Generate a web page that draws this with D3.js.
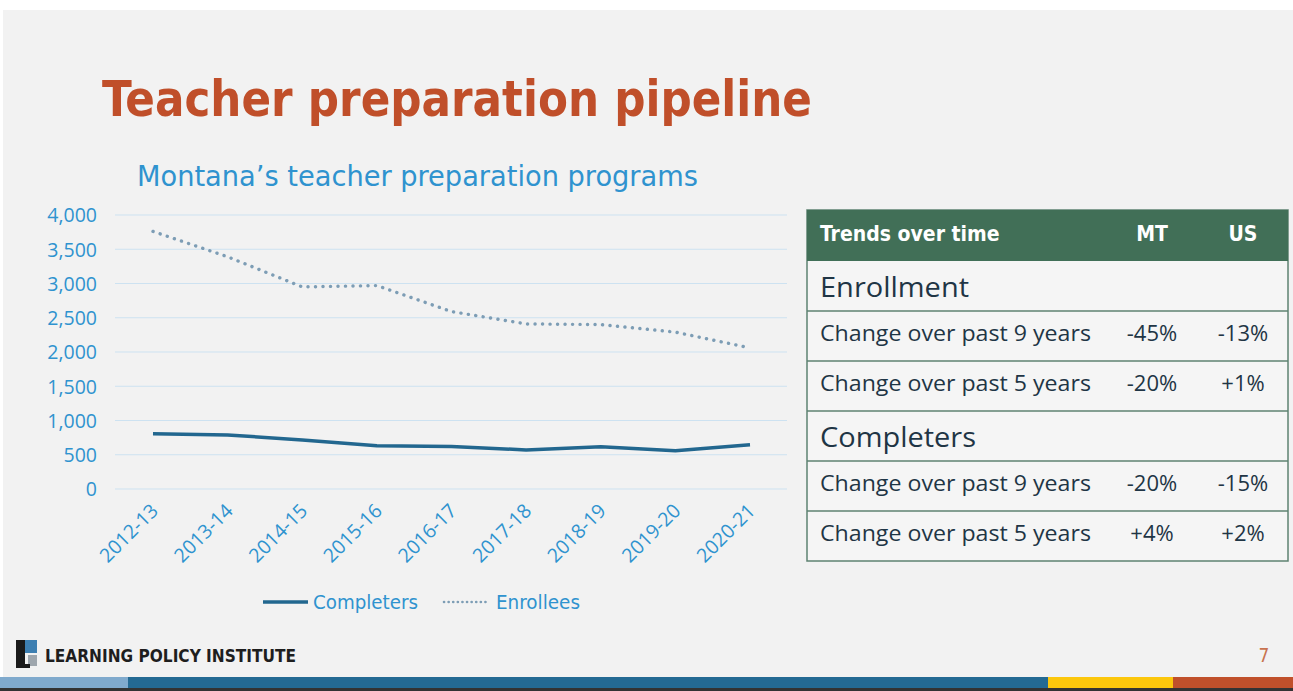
<!DOCTYPE html>
<html>
<head>
<meta charset="utf-8">
<script src="https://cdn.jsdelivr.net/npm/d3@7"></script>
<style>
  html, body { margin: 0; padding: 0; background: #ffffff; }
  svg { display: block; }
</style>
</head>
<body>
<svg id="chart" width="1293" height="691"></svg>
<script>
// ---------------- DATA ----------------
const years = ["2012-13","2013-14","2014-15","2015-16","2016-17","2017-18","2018-19","2019-20","2020-21"];
const completers = [805, 790, 715, 630, 620, 570, 615, 560, 645];
const enrollees = [3760, 3390, 2950, 2970, 2590, 2410, 2400, 2290, 2060];
const yTicks = [0, 500, 1000, 1500, 2000, 2500, 3000, 3500, 4000];
const seriesNames = ["Completers", "Enrollees"];

const tableHeader = ["Trends over time", "MT", "US"];
const tableSections = ["Enrollment", "Completers"];
const tableRowLabels = ["Change over past 9 years", "Change over past 5 years"];
const enrollmentMT = ["-45%", "-20%"];
const enrollmentUS = ["-13%", "+1%"];
const completersMT = ["-20%", "+4%"];
const completersUS = ["-15%", "+2%"];

const titleText = "Teacher preparation pipeline";
const subtitleText = "Montana\u2019s teacher preparation programs";
const footerText = "LEARNING POLICY INSTITUTE";
const pageNumber = "7";

// ---------------- STYLE ----------------
const FONT = "'Liberation Sans Narrow', 'DejaVu Sans Condensed', 'Roboto', sans-serif";
const FONT2 = "'Open Sans', 'Noto Sans', 'DejaVu Sans', sans-serif";
const BLUE_TXT = "#2f93cf";
const DARK_BLUE = "#22678f";
const DOT_COL = "#7d9db5";
const GRID = "#cde2f1";
const ORANGE = "#c04f2a";
const GREEN = "#416f57";

const svg = d3.select("#chart");

// background
svg.append("rect").attr("x", 0).attr("y", 0).attr("width", 1293).attr("height", 691).attr("fill", "#ffffff");
svg.append("rect").attr("x", 3).attr("y", 10).attr("width", 1290).attr("height", 681).attr("fill", "#f2f2f2");

// title
svg.append("text").attr("x", 102).attr("y", 116)
  .attr("font-family", FONT).attr("font-weight", "bold").attr("font-size", 50)
  .attr("fill", ORANGE).attr("textLength", 710).attr("lengthAdjust", "spacingAndGlyphs")
  .text(titleText);

// subtitle
svg.append("text").attr("x", 137).attr("y", 186)
  .attr("font-family", FONT).attr("font-size", 29)
  .attr("fill", BLUE_TXT).attr("textLength", 561).attr("lengthAdjust", "spacingAndGlyphs")
  .text(subtitleText);

// ---------------- CHART ----------------
const x = d3.scalePoint().domain(years).range([153, 750]);
const y = d3.scaleLinear().domain([0, 4000]).range([489, 215]);

const g = svg.append("g");

// grid
g.selectAll("line.grid").data(yTicks).enter().append("line")
  .attr("class", "grid")
  .attr("x1", 115).attr("x2", 787)
  .attr("y1", d => y(d)).attr("y2", d => y(d))
  .attr("stroke", GRID).attr("stroke-width", 1);

// y axis
const yAxis = d3.axisLeft(y).tickValues(yTicks).tickSize(0).tickPadding(0)
  .tickFormat(d3.format(","));
const yg = g.append("g").attr("transform", "translate(97,0)").call(yAxis);
yg.select(".domain").remove();
yg.selectAll("text").attr("font-family", FONT2).attr("font-size", 19.5)
  .attr("fill", BLUE_TXT).attr("dy", "0.35em");

// x axis
const xAxis = d3.axisBottom(x).tickSize(0).tickPadding(0);
const xg = g.append("g").attr("transform", "translate(0,489)").call(xAxis);
xg.select(".domain").remove();
xg.selectAll("text")
  .attr("font-family", FONT2).attr("font-size", 19.5).attr("fill", BLUE_TXT)
  .attr("text-anchor", "end")
  .attr("dy", null).attr("y", 0)
  .attr("transform", "translate(6,23) rotate(-45)");

// lines
const line = d3.line().x((d, i) => x(years[i])).y(d => y(d));
g.append("path").datum(enrollees).attr("d", line)
  .attr("fill", "none").attr("stroke", DOT_COL).attr("stroke-width", 3.4)
  .attr("stroke-linecap", "round").attr("stroke-dasharray", "0.1 7.4");
g.append("path").datum(completers).attr("d", line)
  .attr("fill", "none").attr("stroke", DARK_BLUE).attr("stroke-width", 3.5)
  .attr("stroke-linejoin", "round");

// legend
const lg = svg.append("g");
lg.append("line").attr("x1", 263).attr("x2", 308).attr("y1", 602).attr("y2", 602)
  .attr("stroke", DARK_BLUE).attr("stroke-width", 3.5);
lg.append("text").attr("x", 313).attr("y", 609).attr("font-family", FONT).attr("font-size", 20)
  .attr("fill", BLUE_TXT).attr("textLength", 105).attr("lengthAdjust", "spacingAndGlyphs").text(seriesNames[0]);
lg.append("line").attr("x1", 444).attr("x2", 490).attr("y1", 602).attr("y2", 602)
  .attr("stroke", DOT_COL).attr("stroke-width", 2.6).attr("stroke-linecap", "round")
  .attr("stroke-dasharray", "0.1 4.5");
lg.append("text").attr("x", 496).attr("y", 609).attr("font-family", FONT).attr("font-size", 20)
  .attr("fill", BLUE_TXT).attr("textLength", 84).attr("lengthAdjust", "spacingAndGlyphs").text(seriesNames[1]);

// ---------------- TABLE ----------------
const tX = 807, tW = 481, tTop = 210, hdrH = 51, rowH = 50;
const colMT = 1152, colUS = 1243;
const TXT = "#1f3545";
const BORDER = "#5e8271";
const tg = svg.append("g");

const rows = [];
tableSections.forEach((sec, si) => {
  rows.push({type: "section", label: sec});
  const mt = si === 0 ? enrollmentMT : completersMT;
  const us = si === 0 ? enrollmentUS : completersUS;
  tableRowLabels.forEach((lab, ri) => rows.push({type: "row", label: lab, mt: mt[ri], us: us[ri]}));
});

// body background
tg.append("rect").attr("x", tX).attr("y", tTop).attr("width", tW).attr("height", hdrH + rows.length * rowH)
  .attr("fill", "#f5f5f5").attr("stroke", BORDER).attr("stroke-width", 1.5);
// header
tg.append("rect").attr("x", tX).attr("y", tTop).attr("width", tW).attr("height", hdrH).attr("fill", GREEN);
tg.append("text").attr("x", 820).attr("y", tTop + 31).attr("font-family", FONT).attr("font-weight", "bold")
  .attr("font-size", 21).attr("fill", "#ffffff").text(tableHeader[0]);
tg.append("text").attr("x", colMT).attr("y", tTop + 31).attr("text-anchor", "middle").attr("font-family", FONT)
  .attr("font-weight", "bold").attr("font-size", 21).attr("fill", "#ffffff").text(tableHeader[1]);
tg.append("text").attr("x", colUS).attr("y", tTop + 31).attr("text-anchor", "middle").attr("font-family", FONT)
  .attr("font-weight", "bold").attr("font-size", 21).attr("fill", "#ffffff").text(tableHeader[2]);

rows.forEach((r, i) => {
  const top = tTop + hdrH + i * rowH;
  if (i > 0) {
    tg.append("line").attr("x1", tX).attr("x2", tX + tW).attr("y1", top).attr("y2", top)
      .attr("stroke", BORDER).attr("stroke-width", 1.3);
  }
  if (r.type === "section") {
    tg.append("text").attr("x", 820).attr("y", top + 36).attr("font-family", FONT2)
      .attr("font-size", 28).attr("fill", TXT).attr("textLength", r.label === "Enrollment" ? 149 : 156)
      .attr("lengthAdjust", "spacingAndGlyphs").text(r.label);
  } else {
    tg.append("text").attr("x", 820).attr("y", top + 30).attr("font-family", FONT2)
      .attr("font-size", 22).attr("fill", TXT).attr("textLength", 271)
      .attr("lengthAdjust", "spacingAndGlyphs").text(r.label);
    tg.append("text").attr("x", colMT).attr("y", top + 30).attr("text-anchor", "middle").attr("font-family", FONT2)
      .attr("font-size", 22).attr("fill", TXT).text(r.mt);
    tg.append("text").attr("x", colUS).attr("y", top + 30).attr("text-anchor", "middle").attr("font-family", FONT2)
      .attr("font-size", 22).attr("fill", TXT).text(r.us);
  }
});

// ---------------- FOOTER ----------------
const fg = svg.append("g");
fg.append("rect").attr("x", 16).attr("y", 640).attr("width", 9).attr("height", 28).attr("fill", "#1a1a1a");
fg.append("rect").attr("x", 25).attr("y", 640).attr("width", 12).attr("height", 13).attr("fill", "#3d7fb1");
fg.append("rect").attr("x", 28).attr("y", 655).attr("width", 9).attr("height", 11).attr("fill", "#9ea6ad");
fg.append("rect").attr("x", 25).attr("y", 664).attr("width", 5).attr("height", 4).attr("fill", "#1a1a1a");
fg.append("text").attr("x", 45).attr("y", 662).attr("font-family", FONT).attr("font-weight", "bold")
  .attr("font-size", 17).attr("fill", "#1e1e1e").attr("textLength", 251).attr("lengthAdjust", "spacingAndGlyphs")
  .text(footerText);
fg.append("text").attr("x", 1264).attr("y", 662).attr("text-anchor", "middle").attr("font-family", FONT)
  .attr("font-size", 19).attr("fill", "#c8734f").text(pageNumber);

// bottom bar
const barSegs = [[0, 128, "#80aacd"], [128, 1048, "#246a93"], [1048, 1173, "#fcc70c"], [1173, 1293, "#c0502b"]];
fg.selectAll("rect.bar").data(barSegs).enter().append("rect").attr("class", "bar")
  .attr("x", d => d[0]).attr("y", 677).attr("width", d => d[1] - d[0]).attr("height", 11).attr("fill", d => d[2]);
fg.append("rect").attr("x", 0).attr("y", 688).attr("width", 1293).attr("height", 3).attr("fill", "#333333");
</script>
</body>
</html>
